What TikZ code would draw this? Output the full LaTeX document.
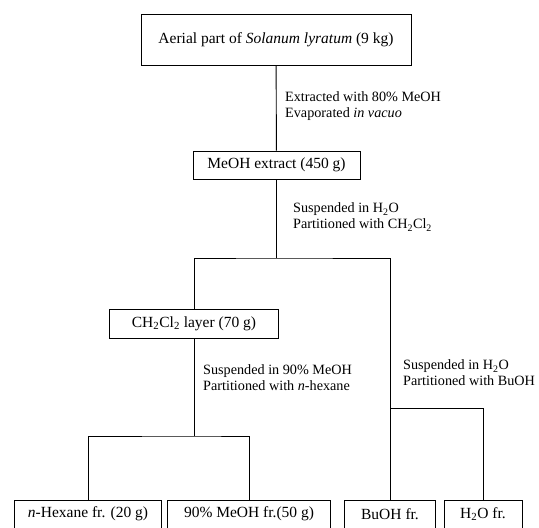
\documentclass[tikz,border=0pt]{standalone}
\usepackage{fontspec}
\setmainfont{Liberation Serif}
\usetikzlibrary{positioning}

\tikzset{
    fracbox/.style={draw, line width=0.9pt, inner sep=0pt, align=center,
        font=\fontsize{15.5}{18}\selectfont},
    steplabel/.style={anchor=west, inner sep=0pt, align=left,
        font=\fontsize{14.2}{16}\selectfont},
    link/.style={line width=0.9pt}
}

\begin{document}
\begin{tikzpicture}[x=1pt, y=-1pt]

    \useasboundingbox (0,0) rectangle (539,528);

    % Plant material and crude extract
    \node[fracbox, minimum width=270pt, minimum height=51pt] (aerial) at (276,39.5)
        {Aerial part of \textit{Solanum lyratum} (9 kg)};
    \node[fracbox, minimum width=167pt, minimum height=28pt] (meoh) at (276.5,165)
        {MeOH extract (450 g)};
    \draw[link] (aerial) -- (meoh);
    \node[steplabel] (extr) at (285,106)
        {Extracted with 80\% MeOH\\Evaporated \textit{in vacuo}};

    % First partition
    \coordinate (split1) at (276.5,258);
    \node[steplabel] (part1) at (293,217)
        {Suspended in H\textsubscript{2}O\\Partitioned with CH\textsubscript{2}Cl\textsubscript{2}};
    \node[fracbox, minimum width=169pt, minimum height=29pt] (layer) at (194,323.5)
        {CH\textsubscript{2}Cl\textsubscript{2} layer (70 g)};
    \draw[link] (meoh) -- (split1);

    % Bottom fractions
    \node[fracbox, minimum width=147pt, minimum height=28pt] (hexane) at (88,514)
        {\textit{n}-Hexane fr. (20 g)};
    \node[fracbox, minimum width=163pt, minimum height=28pt] (aqmeoh) at (249,514)
        {90\% MeOH fr.(50 g)};
    \node[fracbox, minimum width=91pt, minimum height=28pt] (buoh) at (390,514)
        {BuOH fr.};
    \node[fracbox, minimum width=78pt, minimum height=28pt] (water) at (483,514)
        {H\textsubscript{2}O fr.};

    % Second partition of the CH2Cl2 layer
    \coordinate (split2) at (194,436);
    \node[steplabel] (part2) at (203,378)
        {Suspended in 90\% MeOH\\Partitioned with \textit{n}-hexane};
    \draw[link] (layer.north) |- (split1) -| (buoh.north);
    \draw[link] (layer) -- (split2);
    \draw[link] (hexane.north) |- (split2) -| (aqmeoh.north);

    % Partition of the aqueous layer
    \coordinate (split3) at (390,408);
    \node[steplabel] (part3) at (403,373)
        {Suspended in H\textsubscript{2}O\\Partitioned with BuOH};
    \draw[link] (split3) -| (water.north);

\end{tikzpicture}
\end{document}
